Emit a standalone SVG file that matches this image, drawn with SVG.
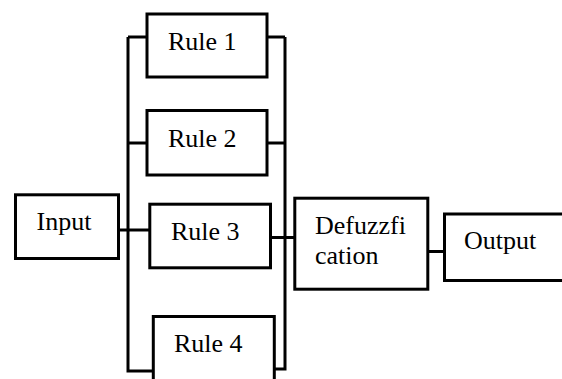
<svg xmlns="http://www.w3.org/2000/svg" width="562" height="379" viewBox="0 0 562 379">
  <style>
    .box { fill: #ffffff; stroke: #000000; stroke-width: 3; }
    .wire { fill: none; stroke: #000000; stroke-width: 3; stroke-linecap: butt; stroke-linejoin: miter; }
    .label { font-family: "Liberation Serif", "Times New Roman", serif; font-size: 26px; fill: #000000; }
  </style>
  <rect width="562" height="379" fill="#ffffff"/>

  <!-- wiring: input fan-out bus, rule outputs bus, defuzzification to output -->
  <g id="connectors">
    <path class="wire" d="M128 37 V371 H153"/>
    <path class="wire" d="M128 37 H147"/>
    <path class="wire" d="M128 143 H148"/>
    <path class="wire" d="M119 230 H150"/>
    <path class="wire" d="M285 37 V369 H275"/>
    <path class="wire" d="M267 37 H285"/>
    <path class="wire" d="M268 143 H285"/>
    <path class="wire" d="M271 237.5 H295"/>
    <path class="wire" d="M426 251.5 H444"/>
  </g>

  <g id="input">
    <rect class="box" x="15.5" y="194.8" width="103" height="63.7"/>
    <text class="label" x="36.5" y="230">Input</text>
  </g>

  <g id="rule1">
    <rect class="box" x="147" y="14" width="120" height="63"/>
    <text class="label" x="168" y="50">Rule 1</text>
  </g>

  <g id="rule2">
    <rect class="box" x="147" y="110.5" width="120" height="64.5"/>
    <text class="label" x="168" y="147">Rule 2</text>
  </g>

  <g id="rule3">
    <rect class="box" x="149.8" y="204.2" width="120.7" height="63.6"/>
    <text class="label" x="171" y="240">Rule 3</text>
  </g>

  <g id="rule4">
    <rect class="box" x="153.3" y="316.5" width="121" height="80"/>
    <text class="label" x="174" y="352">Rule 4</text>
  </g>

  <g id="defuzzification">
    <rect class="box" x="294.8" y="198.2" width="133" height="91"/>
    <text class="label" x="315" y="233.5">Defuzzfi</text>
    <text class="label" x="315" y="263.5">cation</text>
  </g>

  <g id="output">
    <rect class="box" x="444.5" y="214" width="130" height="66.5"/>
    <text class="label" x="464" y="249">Output</text>
  </g>
</svg>
